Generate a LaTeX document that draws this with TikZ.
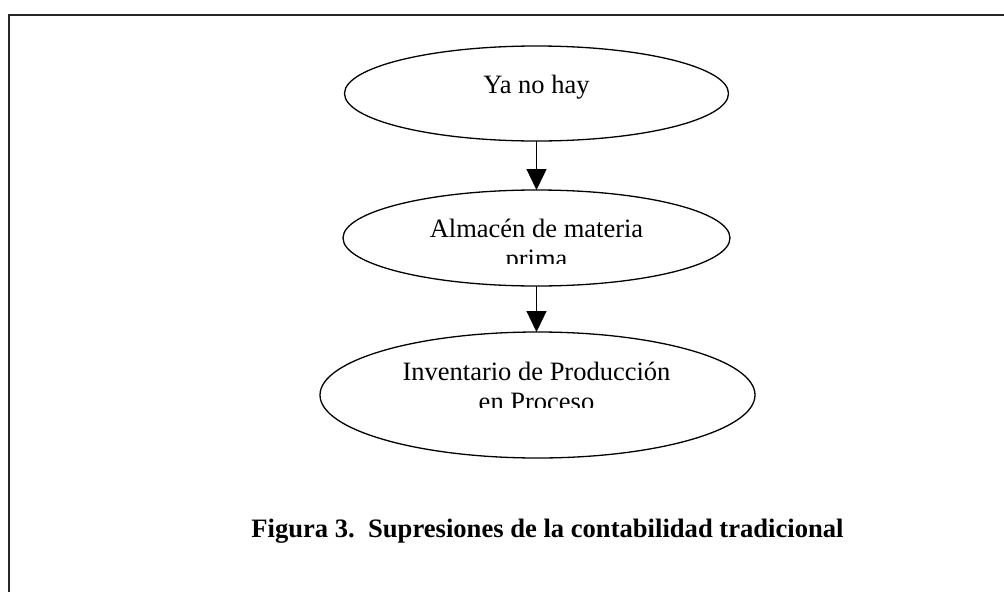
\documentclass[tikz,border=0pt]{standalone}
\usepackage{fontspec}
\setmainfont{Liberation Serif}
\usetikzlibrary{shapes.geometric,arrows.meta}
\tikzset{
  oval/.style={draw=black, line width=1.3pt, ellipse, inner sep=0pt, outer sep=0pt},
  flow/.style={draw=black, line width=1.3pt, -{Triangle[length=21pt,width=20pt]}},
  lbl/.style={anchor=base, inner sep=0pt, font=\fontsize{26.5}{30}\selectfont},
  captiontext/.style={anchor=base, inner sep=0pt, font=\fontsize{26.6}{30}\selectfont\bfseries},
  frameline/.style={draw=black!85, line width=2pt}
}
\begin{document}
\begin{tikzpicture}[x=1pt,y=-1pt]
\useasboundingbox (0,0) rectangle (1004,592);
\draw[frameline] (8.5,592) -- (8.5,14.5) -- (1004,14.5);

\node[oval, minimum width=384pt, minimum height=95pt] (e1) at (536.5,93.5) {};
\node[oval, minimum width=387pt, minimum height=96pt] (e2) at (536.5,238) {};
\node[oval, minimum width=435pt, minimum height=126pt] (e3) at (537.5,395) {};

\node[lbl] (t1) at (536.5,93) {Ya no hay};
\begin{scope}
  \clip (340,200) rectangle (740,263.5);
  \node[lbl] (t2a) at (536.5,237) {Almacén de materia};
  \node[lbl] (t2b) at (536.5,267) {prima};
\end{scope}
\begin{scope}
  \clip (320,340) rectangle (760,407.5);
  \node[lbl] (t3a) at (536.5,380) {Inventario de Producción};
  \node[lbl] (t3b) at (536.5,410) {en Proceso};
\end{scope}

\draw[flow] (e1.south) -- (e2.north);
\draw[flow] (e2.south) -- (e2.south |- e3.north);

\node[captiontext] (caption) at (547.5,537) {Figura 3.\ \ Supresiones de la contabilidad tradicional};
\end{tikzpicture}
\end{document}
